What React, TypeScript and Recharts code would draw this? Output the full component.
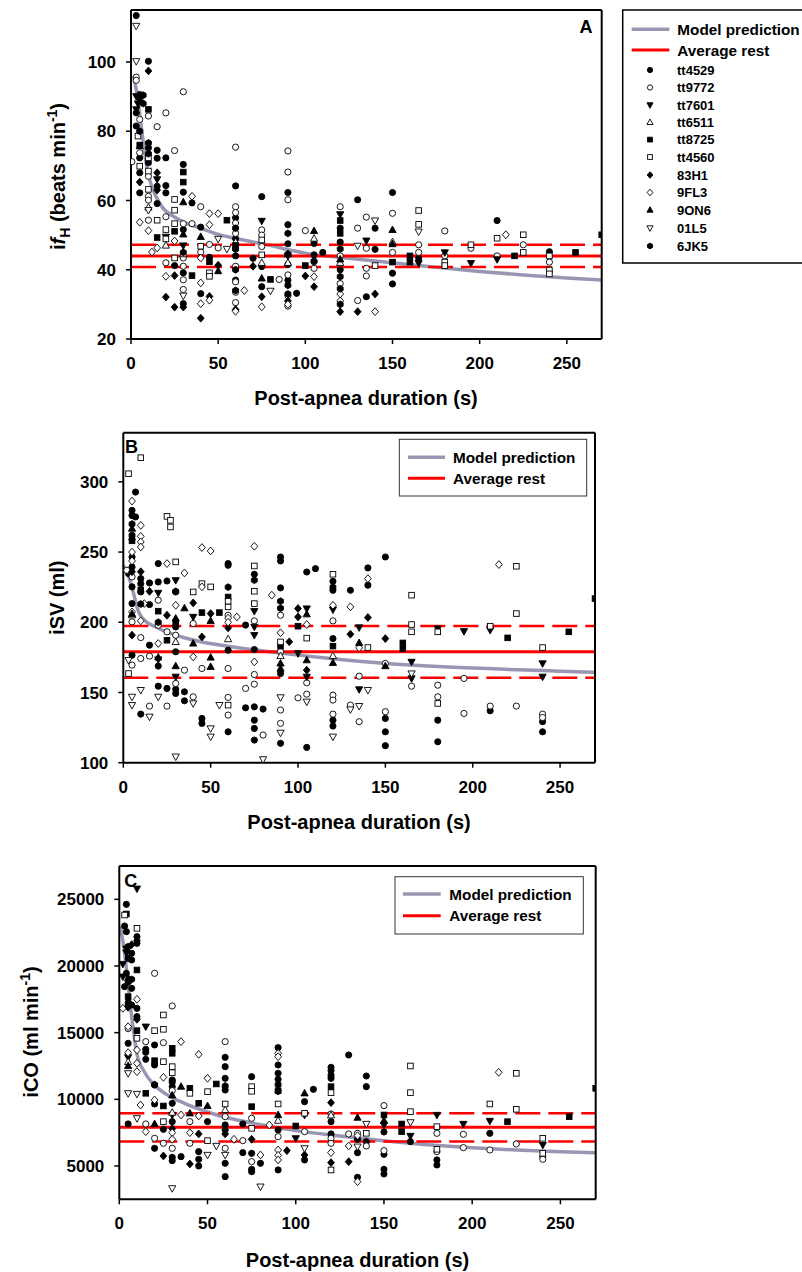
import React from 'react';
import { ComposedChart, Scatter, Line, XAxis, YAxis, ReferenceLine } from 'recharts';

type P = [number, number];
const FONT = '"Liberation Sans", Arial, Helvetica, sans-serif';
const GRAY = '#9797b3';
const RED = '#ff0000';

const SUBJECTS = ['tt4529', 'tt9772', 'tt7601', 'tt6511', 'tt8725', 'tt4560', '83H1', '9FL3', '9ON6', '01L5', '6JK5'];
const MARKERS = ['fcircle', 'ocircle', 'fdown', 'oup', 'fsquare', 'osquare', 'fdiamond', 'odiamond', 'fup', 'odown', 'fhex'];
const X_TICKS = [0, 50, 100, 150, 200, 250];

// ---------------- Panel A : ifH (beats min-1) ----------------
const A_tt4529: P[] = [[3,113.4],[3,85.3],[3,81.5],[5,90.6],[5,72.3],[5,68],[5,62.2],[10,100.2],[10,75.2],[10,70.9],[15,74.5],[15,72.2],[15,64.1],[15,59.1],[20,72.3],[20,64.3],[20,62.2],[25,41.2],[30,70.4],[30,62.4],[30,51.6],[30,39.1],[30,30.2],[35,59.3],[40,52.3],[40,33.1],[45,43.6],[60,64.2],[60,55],[60,49],[60,44],[60,37],[70,43.3],[75,61.1],[75,40.9],[75,35.1],[90,62.3],[90,53],[90,47.5],[90,41.5],[90,37],[95,33.2],[105,47.6],[105,44.3],[110,45],[120,52],[120,48],[120,40],[130,60.2],[135,32.2],[140,52],[140,45.9],[150,62.3],[150,39],[150,35.9],[165,43.3],[210,54.2],[240,45.2]];
const A_tt9772: P[] = [[0.5,71.2],[3,95.6],[3,94.7],[5,83.4],[5,73.8],[10,84.4],[10,67],[10,61.2],[10,60.1],[10,54.3],[15,81.3],[20,85.3],[20,55.3],[20,42],[25,74.4],[30,91.4],[30,53.3],[30,43.4],[30,41],[30,37.1],[30,34.3],[35,53.3],[40,58.2],[40,45.1],[45,47.3],[50,46.3],[60,75.4],[60,58.2],[60,56.5],[60,53.5],[60,50.5],[60,46],[60,41],[60,36.5],[60,33.5],[60,30.5],[75,51.5],[75,50],[75,46.7],[85,37.2],[90,74.3],[90,68.2],[90,60.2],[90,38.5],[90,32.5],[90,29.5],[100,51.3],[105,42.3],[105,40.4],[120,58.2],[120,44],[120,36],[130,52],[130,31.1],[135,55.2],[135,46.2],[135,40.4],[135,38.2],[150,56.3],[150,45],[165,47.2],[165,45],[180,51.2],[180,44],[195,46.2],[210,44],[225,47.2],[240,42.2]];
const A_tt7601: P[] = [[3,90.1],[3,86.3],[4,88],[5,89],[15,66.1],[20,49.5],[30,47],[75,54.1],[90,44],[120,56],[135,48.4],[165,41.9],[180,45],[195,41.9],[210,43]];
const A_tt6511: P[] = [[10,58],[20,47],[30,44.5],[60,48],[75,42],[90,42],[105,49],[120,42],[150,48]];
const A_tt8725: P[] = [[5,76],[10,86.3],[15,49.3],[25,51.1],[30,68.2],[30,65.3],[35,38.3],[45,42.3],[55,54.3],[60,47],[80,37.2],[100,41.2],[120,54.2],[120,50.5],[150,42.2],[160,44],[160,42.2],[220,44],[255,45],[270,50.1]];
const A_tt4560: P[] = [[4,78.6],[5,69.9],[10,72.3],[10,68.5],[10,63.2],[15,54.3],[20,51.6],[20,48.9],[25,60.3],[25,57.2],[25,53.3],[25,43.4],[40,46.8],[45,39.1],[45,38.1],[75,48.6],[75,44.3],[140,41.2],[165,57.1],[165,53.1],[180,42.2],[180,41.2],[195,47.2],[210,49.1],[225,50.1],[225,45],[240,44],[240,39.9],[240,38.8]];
const A_83H1: P[] = [[5,65.3],[10,97.4],[15,68],[15,63],[20,32.1],[25,38.3],[25,29.2],[30,29.2],[40,26],[45,32.3],[50,41.3],[60,28.5],[70,41],[75,32.2],[90,31],[100,38.2],[105,35.1],[120,27.9],[130,27.9],[140,33]];
const A_9FL3: P[] = [[5,53.7],[10,51.3],[12,45.1],[15,46.3],[20,38.1],[25,48.3],[35,61.2],[40,43.4],[40,36.2],[40,30.2],[45,56.2],[45,53],[45,31.2],[50,56.2],[60,28],[65,34],[75,29.3],[90,30],[105,38],[120,31],[120,33],[140,27.9],[215,50.1]];
const A_9ON6: P[] = [[5,75.7],[30,59.5],[30,50.2],[40,49.5],[50,39.6],[75,37.5],[90,44.5],[105,51.2],[120,43],[150,51.5],[150,47.4]];
const A_01L5: P[] = [[3,110.4],[3,100.2],[10,57.2],[30,32.5],[50,48.9],[55,46],[80,33.9],[130,46.9],[140,54.2],[165,51]];
const A_6JK5: P[] = [[5,80],[7,90.4],[7,88],[10,76.6],[10,73.5],[30,45],[60,52],[60,46],[60,40],[60,34],[90,50.5],[90,44.5],[90,35.5],[90,33],[105,42.5],[120,46],[120,38],[120,34.5],[120,30]];
const A_MODEL: P[] = [[1.5,96],[3,92],[4.5,87],[6,81],[7.5,75],[9,70],[11,65.5],[14,61.5],[18,58],[24,55.5],[30,53.8],[40,52],[50,50.2],[60,49],[78,47.2],[100,44.8],[125,43.3],[150,42],[175,40.7],[200,39.5],[225,38.5],[250,37.6],[270,37]];
const A_REST = [44, 47.2, 40.8];
const A_Y_TICKS = [20, 40, 60, 80, 100];

// ---------------- Panel B : iSV (ml) ----------------
const B_tt4529: P[] = [[3,234.7],[5,279.7],[5,276],[5,259],[5,246.5],[5,239.4],[5,225.2],[5,213.3],[5,176.6],[7,292.7],[7,275],[10,231.1],[10,227.5],[10,221.6],[10,134.6],[15,228],[15,212.6],[15,183.7],[20,241.8],[20,228.7],[20,168.8],[20,154.5],[25,229.4],[25,152.9],[30,221.6],[30,196.7],[30,179],[30,152.2],[30,149.3],[35,150.5],[35,144.1],[45,131.5],[45,128],[60,241.8],[60,240.6],[60,180.1],[60,122],[70,198],[70,139.1],[75,234.2],[75,180.6],[75,139.8],[75,130.3],[75,124.4],[75,116.1],[80,138.2],[90,246.5],[90,243.7],[90,224.5],[90,163.5],[90,113.8],[105,235.8],[105,110.9],[110,238.2],[120,229.2],[120,222.8],[120,188.4],[120,130.3],[120,126.1],[130,222.8],[140,238.7],[140,226.4],[150,246.5],[150,131.5],[150,122],[150,112.1],[180,130.3],[180,114.9],[210,137],[240,129.2],[240,122]];
const B_tt9772: P[] = [[2,237],[5,232.3],[5,200.3],[5,169.5],[10,189.1],[10,174.2],[15,175.9],[15,140.3],[20,215.7],[20,197.9],[25,193.2],[25,140.3],[30,190.8],[30,156.4],[35,165.9],[40,199.1],[40,146.9],[45,167.1],[60,205],[60,167.1],[60,146.5],[60,133.9],[70,152.9],[75,201],[75,162.8],[75,155.9],[80,119.7],[90,205],[90,179.2],[90,128],[90,137.5],[100,146.2],[105,156.9],[105,148.8],[120,201],[120,148.1],[120,144.6],[120,134.6],[130,141],[135,161.6],[135,129.2],[150,170.7],[150,136.3],[165,154.5],[180,155.2],[180,146.9],[195,160],[195,135.1],[210,140.3],[225,140.3],[240,134.6],[240,132.2]];
const B_tt7601: P[] = [[20,220.9],[20,173.5],[30,229.9],[30,161.2],[40,203.8],[75,207.9],[75,196.7],[75,190.8],[100,177.8],[105,209.8],[105,161.2],[120,209],[135,196.3],[135,152.2],[165,171.8],[165,160],[180,195.5],[195,193.6],[210,194.4],[240,170.7],[240,161.2]];
const B_tt6511: P[] = [[5,205],[30,186],[60,188],[90,176],[120,176]];
const B_tt8725: P[] = [[5,258],[10,223],[20,207.9],[25,187.2],[30,200],[45,206.9],[55,206.9],[60,218],[90,183],[100,197.2],[120,183],[160,185.3],[160,181.1],[220,188.9],[255,193.2],[270,216.9]];
const B_tt4560: P[] = [[3,305.8],[3,163.5],[10,317.2],[25,275.4],[27,272.6],[27,267.9],[30,243],[40,221.6],[45,227.5],[50,225.2],[60,211],[60,215],[60,141],[75,240.1],[75,222.1],[75,213.3],[90,186],[105,188.7],[120,234.2],[140,182],[165,219.3],[165,198.4],[165,193.2],[180,193.2],[180,142.2],[210,197.2],[225,239.9],[225,206.2],[240,182]];
const B_83H1: P[] = [[5,190.8],[5,236],[10,236],[15,222],[25,205],[40,213.8],[45,189.6],[50,206.2],[60,196],[95,186.1],[100,209.8],[100,203.8],[105,165.9],[130,191.5],[140,203.4],[150,188.4]];
const B_9FL3: P[] = [[5,286.3],[5,250],[5,243.7],[5,207.4],[10,269],[10,261.2],[10,257.2],[10,253.6],[10,201],[12,213.3],[20,184.9],[25,241.8],[30,212.1],[35,235.1],[40,175.4],[45,253.2],[45,225.2],[50,250.8],[60,203],[60,200],[65,203.8],[75,254.1],[75,171.8],[85,219.3],[90,192.5],[105,198.4],[120,212.1],[130,211],[135,181.8],[140,231.1],[215,241.1]];
const B_9ON6: P[] = [[5,266.7],[5,206],[20,175],[30,202.7],[30,168.8],[35,210],[40,184.9],[50,201],[50,174.9],[50,168.3],[90,170.7],[90,167],[105,205.7],[105,173],[120,171.1],[135,185.3],[150,168.8]];
const B_01L5: P[] = [[3,173],[5,146.9],[5,141],[10,151.7],[15,132.7],[20,146.9],[30,104.3],[40,142.2],[50,124.4],[50,118.5],[55,141],[80,102.4],[90,146.5],[90,121.3],[105,143.4],[120,118.5],[130,137.9],[135,140.3],[140,151.7],[165,163.5]];
const B_6JK5: P[] = [[5,270],[5,262],[10,213],[20,200],[30,222],[60,225],[75,230],[90,215],[90,210],[120,225]];
const B_MODEL: P[] = [[0,240.5],[2,236],[4,229],[6,220],[8,210],[10,204.5],[13,200.5],[18,197],[25,193],[35,189],[45,186],[60,183],[80,179.5],[100,176.6],[120,174],[150,170.7],[180,168.5],[200,167.5],[225,166.2],[250,165.2],[270,164.3]];
const B_REST = [179, 197.3, 160.5];
const B_Y_TICKS = [100, 150, 200, 250, 300];

// ---------------- Panel C : iCO (ml min-1) ----------------
const C_tt4529: P[] = [[3,23000],[3,18450],[4,24625],[4,22575],[4,19450],[5,21450],[5,20575],[5,17250],[5,14200],[5,8150],[7,20950],[7,20450],[7,18325],[7,17075],[10,22200],[10,21700],[10,16825],[10,16200],[15,13750],[15,13525],[15,13000],[20,14075],[20,12575],[20,11075],[20,9650],[20,6325],[25,7750],[30,11450],[30,10950],[30,9700],[30,8325],[30,5650],[30,5400],[35,5700],[45,6075],[45,5500],[45,5000],[50,8325],[60,13150],[60,12450],[60,11575],[60,10700],[60,8075],[60,7700],[60,5200],[60,4200],[70,8150],[70,6000],[75,11700],[75,5950],[75,4750],[75,4575],[80,5200],[90,13875],[90,12575],[90,11950],[90,11500],[90,7700],[90,4700],[105,9825],[105,5450],[110,10750],[120,12400],[120,12150],[120,11575],[120,8325],[120,7400],[130,13325],[135,7000],[135,6000],[135,4150],[140,11750],[140,10950],[140,6825],[150,7550],[150,5875],[150,4750],[150,4400],[165,6825],[180,5450],[180,5075],[210,7450]];
const C_tt9772: P[] = [[5,15300],[15,14325],[15,8150],[20,19450],[20,7075],[25,14250],[25,6700],[30,17000],[30,10650],[30,6325],[40,8325],[40,6700],[60,14325],[60,8700],[60,6325],[70,6900],[75,8575],[75,5325],[90,7200],[105,7575],[120,8900],[120,7075],[120,6700],[130,7400],[135,7450],[140,6500],[150,9525],[150,6150],[180,7450],[180,6075],[195,7375],[195,6375],[210,6200],[225,6650],[240,5700],[240,5500]];
const C_tt7601: P[] = [[2,20150],[2,19200],[4,21000],[4,21300],[5,13150],[10,25800],[15,15450],[30,8825],[100,7075],[105,8825],[150,8075],[165,7250],[180,8825],[195,8150],[210,8375],[240,6575]];
const C_tt6511: P[] = [[5,12800],[30,9000],[60,9200],[90,8400],[120,8800]];
const C_tt8725: P[] = [[4,23900],[5,17700],[10,19700],[10,15150],[15,10450],[20,12900],[25,9500],[30,13825],[30,13450],[40,10825],[45,9700],[55,11150],[75,9450],[90,10650],[100,8000],[120,10950],[150,8825],[160,8150],[160,7575],[220,8325],[255,8700],[270,10825]];
const C_tt4560: P[] = [[3,23825],[10,22825],[10,14575],[20,15150],[25,16325],[25,15250],[25,12825],[25,8325],[30,12450],[30,12000],[40,10450],[50,10575],[50,6900],[60,9650],[75,10950],[75,10600],[75,7825],[90,9650],[105,8950],[120,10500],[120,4700],[140,7450],[165,12500],[165,10500],[165,9075],[180,7950],[180,6250],[210,9650],[225,11950],[225,9250],[240,7075],[240,5950]];
const C_83H1: P[] = [[5,16900],[7,21600],[10,21900],[10,16000],[25,5750],[30,7800],[40,5150],[45,7400],[60,7400],[75,7000],[95,6150],[105,5825],[120,9750],[120,5250],[130,5325]];
const C_9FL3: P[] = [[2,16825],[5,15450],[5,13500],[10,17500],[10,13700],[10,12700],[10,12075],[12,9575],[15,7575],[20,9950],[25,11650],[30,7500],[30,7000],[35,14325],[35,8825],[40,7500],[45,13375],[45,8750],[50,11575],[65,7000],[80,5825],[85,8075],[90,13450],[90,13200],[90,6200],[90,5800],[90,5450],[120,6000],[130,6500],[135,7275],[135,3825],[215,12025]];
const C_9ON6: P[] = [[5,12500],[5,19100],[20,8150],[30,10300],[35,10950],[40,8950],[50,9500],[90,8825],[105,10450],[135,8625],[150,8400]];
const C_01L5: P[] = [[5,11950],[5,10450],[10,10400],[10,8575],[30,3325],[50,5825],[55,6500],[60,5825],[80,3450],[105,6325],[135,6450],[140,8150],[165,8275]];
const C_6JK5: P[] = [[5,18800],[5,17000],[7,19000],[20,11100],[30,11300],[60,11000],[90,11100],[90,10600],[120,11800]];
const C_MODEL: P[] = [[0.5,23000],[1.5,22300],[3,21000],[4.5,19200],[6,17300],[8,15200],[10,13400],[14,12100],[20,11050],[27,10350],[37,9700],[50,9050],[60,8650],[80,8100],[100,7650],[125,7250],[150,6900],[175,6600],[200,6370],[225,6200],[250,6070],[270,6000]];
const C_REST = [7900, 8950, 6830];
const C_Y_TICKS = [5000, 10000, 15000, 20000, 25000];

const toPts = (arr: P[]) => arr.map(([t, v]) => ({ t, v }));

function marker(kind: string, cx: number, cy: number, s = 1, key?: any) {
  const filled = kind[0] === 'f';
  const fill = filled ? '#000' : '#fff';
  const common = { fill, stroke: '#000', strokeWidth: 0.9 } as any;
  const t = kind.slice(1);
  if (t === 'circle') return <circle key={key} cx={cx} cy={cy} r={3.1 * s} {...common} />;
  if (t === 'square') { const h = 2.8 * s; return <rect key={key} x={cx - h} y={cy - h} width={2 * h} height={2 * h} {...common} />; }
  if (t === 'diamond') { const w = 3.4 * s, h = 3.9 * s; return <polygon key={key} points={`${cx},${cy - h} ${cx + w},${cy} ${cx},${cy + h} ${cx - w},${cy}`} {...common} />; }
  if (t === 'up') { const w = 3.6 * s; return <polygon key={key} points={`${cx},${cy - 3.9 * s} ${cx + w},${cy + 2.6 * s} ${cx - w},${cy + 2.6 * s}`} {...common} />; }
  if (t === 'down') { const w = 3.6 * s; return <polygon key={key} points={`${cx},${cy + 3.9 * s} ${cx + w},${cy - 2.6 * s} ${cx - w},${cy - 2.6 * s}`} {...common} />; }
  const r = 3.4 * s;
  const pts = [0, 1, 2, 3, 4, 5].map((i) => { const a = Math.PI / 6 + (i * Math.PI) / 3; return `${cx + r * Math.cos(a)},${cy + r * Math.sin(a)}`; }).join(' ');
  return <polygon key={key} points={pts} {...common} />;
}

type PanelProps = {
  top: number; height: number;
  plot: { left: number; right: number; ptop: number; pbottom: number };
  series: P[][]; model: P[]; rest: number[]; yDomain: [number, number]; yTicks: number[];
};

function Panel({ top, height, plot, series, model, rest, yDomain, yTicks }: PanelProps) {
  const YW = 60, XH = 30;
  const margin = {
    top: plot.ptop - top - 1,
    left: plot.left - YW,
    right: 802 - plot.right - 1,
    bottom: top + height - plot.pbottom - XH,
  };
  const tickStyle = { fill: '#000', fontSize: 17, fontWeight: 'bold', fontFamily: FONT } as any;
  const axisLine = { stroke: '#000', strokeWidth: 2 };
  const tickLine = { stroke: '#000', strokeWidth: 1.5 };
  return (
    <div style={{ position: 'absolute', left: 0, top, width: 802, height }}>
      <ComposedChart width={802} height={height} margin={margin}>
        <XAxis dataKey="t" type="number" domain={[0, 270]} ticks={X_TICKS} interval={0} allowDataOverflow
          height={XH} tick={tickStyle} tickSize={5} tickMargin={13} axisLine={axisLine} tickLine={tickLine} />
        <XAxis xAxisId="top" orientation="top" type="number" domain={[0, 270]} height={1} tick={false} tickLine={false} axisLine={axisLine} />
        <YAxis dataKey="v" type="number" domain={yDomain} ticks={yTicks} interval={0} allowDataOverflow
          width={YW} tick={tickStyle} tickSize={5} tickMargin={10} axisLine={axisLine} tickLine={tickLine} />
        <YAxis yAxisId="right" orientation="right" type="number" domain={yDomain} ticks={yTicks} interval={0}
          width={1} tick={false} tickSize={5} axisLine={axisLine} tickLine={tickLine} />
        {series.map((arr, i) => (
          <Scatter key={SUBJECTS[i]} name={SUBJECTS[i]} data={toPts(arr)} isAnimationActive={false}
            shape={(p: any) => marker(MARKERS[i], p.cx, p.cy)} />
        ))}
        <Line data={toPts(model)} dataKey="v" type="monotone" stroke={GRAY} strokeWidth={3.5} dot={false} activeDot={false} isAnimationActive={false} />
        <ReferenceLine y={rest[0]} stroke={RED} strokeWidth={3} />
        <ReferenceLine y={rest[1]} stroke={RED} strokeWidth={2.5} strokeDasharray="25 8" />
        <ReferenceLine y={rest[2]} stroke={RED} strokeWidth={2.5} strokeDasharray="25 8" />
      </ComposedChart>
    </div>
  );
}

const txt = { fontFamily: FONT, fill: '#000' } as any;
const LEG_FS = 15.3;

function Overlay() {
  const rowsY = [70, 87.5, 105, 122.3, 139.6, 157, 175, 192.5, 210, 228, 246];
  return (
    <svg width={802} height={1272} style={{ position: 'absolute', left: 0, top: 0, pointerEvents: 'none' }}>
      <text x={586} y={32.5} textAnchor="middle" fontSize={18} fontWeight="bold" {...txt}>A</text>
      <text x={131.5} y={453} textAnchor="middle" fontSize={18} fontWeight="bold" {...txt}>B</text>
      <text x={130.7} y={886.5} textAnchor="middle" fontSize={18} fontWeight="bold" {...txt}>C</text>

      <text x={366} y={404.5} textAnchor="middle" fontSize={20} fontWeight="bold" {...txt}>Post-apnea duration (s)</text>
      <text x={359} y={829} textAnchor="middle" fontSize={20} fontWeight="bold" {...txt}>Post-apnea duration (s)</text>
      <text x={357.5} y={1267} textAnchor="middle" fontSize={20} fontWeight="bold" {...txt}>Post-apnea duration (s)</text>

      <text transform="translate(64.5,176.5) rotate(-90)" textAnchor="middle" fontSize={20} fontWeight="bold" {...txt}>
        i<tspan fontStyle="italic">f</tspan><tspan dy={5} fontSize={14}>H</tspan><tspan dy={-5}> (beats min</tspan><tspan dy={-8} fontSize={14}>-1</tspan><tspan dy={8}>)</tspan>
      </text>
      <text transform="translate(63.5,597.7) rotate(-90)" textAnchor="middle" fontSize={20} fontWeight="bold" {...txt}>iSV (ml)</text>
      <text transform="translate(38,1032) rotate(-90)" textAnchor="middle" fontSize={20} fontWeight="bold" {...txt}>
        iCO (ml min<tspan dy={-8} fontSize={14}>-1</tspan><tspan dy={8}>)</tspan>
      </text>

      <rect x={622.7} y={10} width={200} height={253} fill="#fff" stroke="#000" strokeWidth={1.5} />
      <line x1={631.7} x2={669.3} y1={29.3} y2={29.3} stroke={GRAY} strokeWidth={3.5} />
      <line x1={631.7} x2={669.3} y1={50} y2={50} stroke={RED} strokeWidth={3} />
      <text x={677.3} y={34.8} fontSize={LEG_FS} fontWeight="bold" {...txt}>Model prediction</text>
      <text x={677.3} y={55.5} fontSize={LEG_FS} fontWeight="bold" {...txt}>Average rest</text>
      {SUBJECTS.map((s, i) => (
        <g key={s}>
          {marker(MARKERS[i], 650, rowsY[i], 0.85)}
          <text x={677} y={rowsY[i] + 4.6} fontSize={13} fontWeight="bold" {...txt}>{s}</text>
        </g>
      ))}

      <rect x={399.3} y={439.3} width={187.4} height={56.7} fill="#fff" stroke="#333" strokeWidth={1} />
      <line x1={408} x2={445} y1={457.3} y2={457.3} stroke={GRAY} strokeWidth={3.5} />
      <line x1={408} x2={445} y1={478.3} y2={478.3} stroke={RED} strokeWidth={3} />
      <text x={453} y={462.8} fontSize={LEG_FS} fontWeight="bold" {...txt}>Model prediction</text>
      <text x={453} y={483.8} fontSize={LEG_FS} fontWeight="bold" {...txt}>Average rest</text>

      <rect x={395} y={876.7} width={188.3} height={57.3} fill="#fff" stroke="#333" strokeWidth={1} />
      <line x1={403} x2={440.7} y1={894} y2={894} stroke={GRAY} strokeWidth={3.5} />
      <line x1={403} x2={440.7} y1={915.7} y2={915.7} stroke={RED} strokeWidth={3} />
      <text x={449.3} y={899.5} fontSize={LEG_FS} fontWeight="bold" {...txt}>Model prediction</text>
      <text x={449.3} y={921.2} fontSize={LEG_FS} fontWeight="bold" {...txt}>Average rest</text>
    </svg>
  );
}

export default function App() {
  return (
    <div style={{ position: 'absolute', left: 0, top: 0, width: 802, height: 1272, overflow: 'hidden', background: '#fff' }}>
      <Panel top={0} height={420} plot={{ left: 131, right: 601.7, ptop: 10, pbottom: 339 }}
        series={[A_tt4529, A_tt9772, A_tt7601, A_tt6511, A_tt8725, A_tt4560, A_83H1, A_9FL3, A_9ON6, A_01L5, A_6JK5]}
        model={A_MODEL} rest={A_REST} yDomain={[20, 115]} yTicks={A_Y_TICKS} />
      <Panel top={420} height={420} plot={{ left: 123.3, right: 595, ptop: 432.7, pbottom: 762.7 }}
        series={[B_tt4529, B_tt9772, B_tt7601, B_tt6511, B_tt8725, B_tt4560, B_83H1, B_9FL3, B_9ON6, B_01L5, B_6JK5]}
        model={B_MODEL} rest={B_REST} yDomain={[100, 335]} yTicks={B_Y_TICKS} />
      <Panel top={840} height={432} plot={{ left: 119.3, right: 595.7, ptop: 866, pbottom: 1199.3 }}
        series={[C_tt4529, C_tt9772, C_tt7601, C_tt6511, C_tt8725, C_tt4560, C_83H1, C_9FL3, C_9ON6, C_01L5, C_6JK5]}
        model={C_MODEL} rest={C_REST} yDomain={[2500, 27500]} yTicks={C_Y_TICKS} />
      <Overlay />
    </div>
  );
}
